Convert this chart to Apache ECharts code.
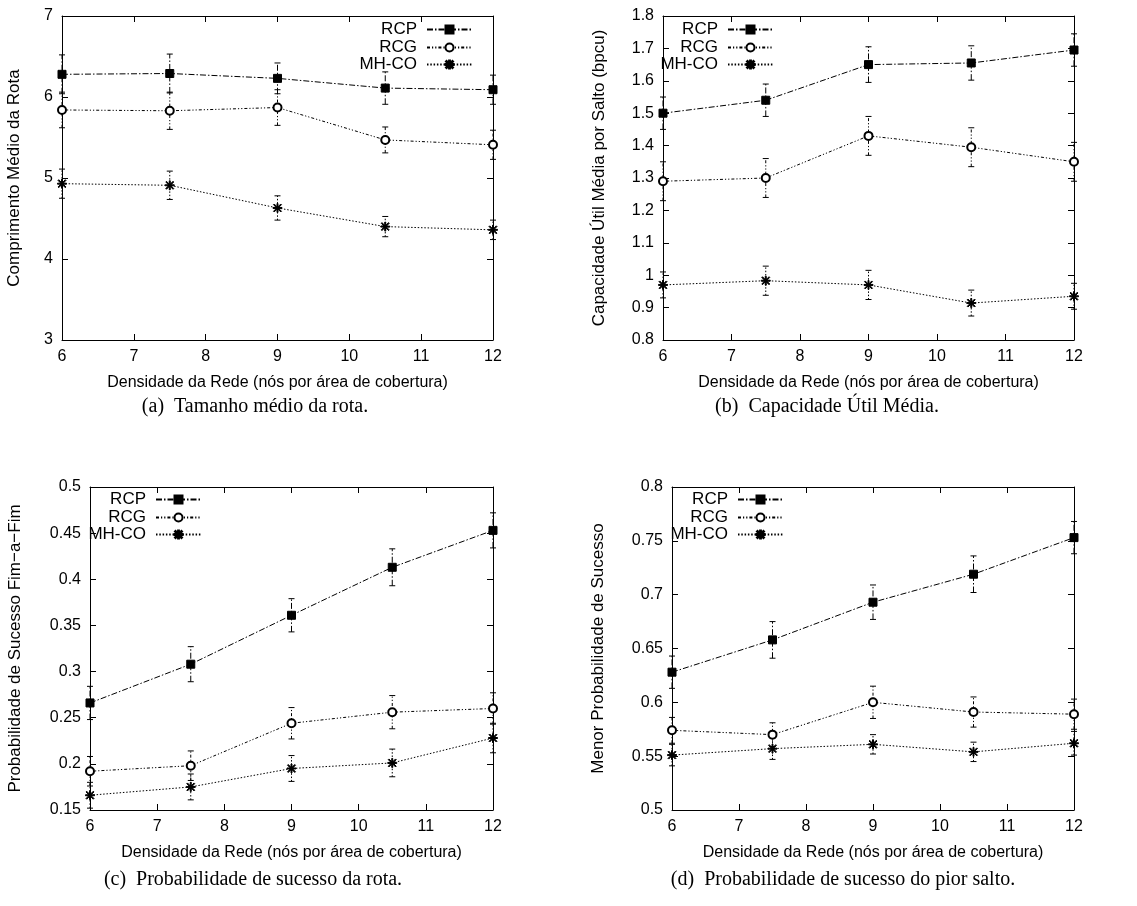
<!DOCTYPE html>
<html>
<head>
<meta charset="utf-8">
<script src="https://cdn.jsdelivr.net/npm/echarts@6/dist/echarts.min.js"></script>
<style>
html,body{margin:0;padding:0;background:#fff;}
#chart{width:1137px;height:906px;}
</style>
</head>
<body>
<div id="chart"></div>
<script>
// ---- data ----
const xDensity = [6, 7.5, 9, 10.5, 12];
const seriesNames = ['RCP', 'RCG', 'MH-CO'];
const xTicks = { min: 6, max: 12, interval: 1 };

// (a) Comprimento médio da rota
const rotaRCP = [6.28, 6.29, 6.23, 6.11, 6.09];
const rotaRCPErr = [0.24, 0.24, 0.19, 0.20, 0.18];
const rotaRCG = [5.84, 5.83, 5.87, 5.47, 5.41];
const rotaRCGErr = [0.22, 0.23, 0.22, 0.16, 0.18];
const rotaMH = [4.93, 4.91, 4.63, 4.40, 4.36];
const rotaMHErr = [0.18, 0.175, 0.15, 0.125, 0.12];

// (b) Capacidade útil média por salto
const capRCP = [1.50, 1.54, 1.65, 1.655, 1.695];
const capRCPErr = [0.05, 0.05, 0.055, 0.053, 0.05];
const capRCG = [1.29, 1.30, 1.43, 1.395, 1.35];
const capRCGErr = [0.06, 0.06, 0.06, 0.06, 0.06];
const capMH = [0.97, 0.983, 0.97, 0.914, 0.935];
const capMHErr = [0.04, 0.045, 0.045, 0.04, 0.04];

// (c) Probabilidade de sucesso fim-a-fim
const sucRCP = [0.266, 0.308, 0.361, 0.413, 0.453];
const sucRCPErr = [0.018, 0.019, 0.018, 0.020, 0.019];
const sucRCG = [0.192, 0.198, 0.244, 0.256, 0.260];
const sucRCGErr = [0.016, 0.016, 0.017, 0.018, 0.017];
const sucMH = [0.166, 0.175, 0.195, 0.201, 0.228];
const sucMHErr = [0.014, 0.014, 0.014, 0.015, 0.016];

// (d) Menor probabilidade de sucesso
const piorRCP = [0.628, 0.658, 0.693, 0.719, 0.753];
const piorRCPErr = [0.015, 0.017, 0.016, 0.017, 0.015];
const piorRCG = [0.574, 0.570, 0.600, 0.591, 0.589];
const piorRCGErr = [0.012, 0.011, 0.015, 0.014, 0.014];
const piorMH = [0.551, 0.557, 0.561, 0.554, 0.562];
const piorMHErr = [0.010, 0.010, 0.009, 0.009, 0.011];

const yRanges = [
  { min: 3, max: 7, interval: 1 },
  { min: 0.8, max: 1.8, interval: 0.1 },
  { min: 0.15, max: 0.5, interval: 0.05 },
  { min: 0.5, max: 0.8, interval: 0.05 }
];
const yNames = [
  'Comprimento Médio da Rota',
  'Capacidade Útil Média por Salto (bpcu)',
  'Probabilidade de Sucesso Fim−a−Fim',
  'Menor Probabilidade de Sucesso'
];
const xName = 'Densidade da Rede (nós por área de cobertura)';
const captions = [
  '(a)  Tamanho médio da rota.',
  '(b)  Capacidade Útil Média.',
  '(c)  Probabilidade de sucesso da rota.',
  '(d)  Probabilidade de sucesso do pior salto.'
];
const panelValues = [
  [[rotaRCP, rotaRCPErr], [rotaRCG, rotaRCGErr], [rotaMH, rotaMHErr]],
  [[capRCP, capRCPErr], [capRCG, capRCGErr], [capMH, capMHErr]],
  [[sucRCP, sucRCPErr], [sucRCG, sucRCGErr], [sucMH, sucMHErr]],
  [[piorRCP, piorRCPErr], [piorRCG, piorRCGErr], [piorMH, piorMHErr]]
];

// ---- layout / style ----
const W = 1137;
const layout = [
  { grid: { left: 62, top: 16, width: 431, height: 324 }, yGap: 39, legendIconRight: 473, legendRows: [30, 48, 65], caption: [255, 407] },
  { grid: { left: 663, top: 16, width: 411, height: 324 }, yGap: 55, legendIconRight: 774, legendRows: [30, 48, 65], caption: [827, 407] },
  { grid: { left: 90, top: 487, width: 403, height: 323 }, yGap: 66, legendIconRight: 202, legendRows: [500, 518, 535], caption: [253, 880] },
  { grid: { left: 672, top: 487, width: 402, height: 323 }, yGap: 65, legendIconRight: 784, legendRows: [500, 518, 535], caption: [843, 880] }
];
const FONT = 'Liberation Sans, Arial, sans-serif';
const asterisk = 'path://M-1.1,-10L1.1,-10L1.1,10L-1.1,10Z M-10,-1.1L10,-1.1L10,1.1L-10,1.1Z M-7.3,-8.85L8.85,7.3L7.3,8.85L-8.85,-7.3Z M7.3,-8.85L8.85,-7.3L-7.3,8.85L-8.85,7.3Z';
const styles = [
  { symbol: 'rect', size: 8, dash: [6, 2, 1.5, 2] },
  { symbol: 'emptyCircle', size: 8, dash: [3, 2, 1.2, 2, 1.2, 2] },
  { symbol: asterisk, size: 9, dash: [1.5, 1.8] }
];

const grids = [], xAxes = [], yAxes = [], series = [], legends = [], graphics = [];
const tickStyle = { inside: true, length: 6, lineStyle: { color: '#000', width: 1 } };
const lineAx = { show: true, onZero: false, lineStyle: { color: '#000', width: 1 } };

layout.forEach((L, g) => {
  grids.push(Object.assign({ show: false, containLabel: false }, L.grid));
  xAxes.push({
    type: 'value', gridIndex: g, position: 'bottom', min: xTicks.min, max: xTicks.max, interval: xTicks.interval,
    axisLine: lineAx, axisTick: tickStyle, splitLine: { show: false },
    axisLabel: { color: '#000', fontSize: 16, fontFamily: FONT, margin: 9 },
    name: xName, nameLocation: 'middle', nameGap: 35,
    nameTextStyle: { color: '#000', fontSize: 16, fontFamily: FONT }
  });
  xAxes.push({
    type: 'value', gridIndex: g, position: 'top', min: xTicks.min, max: xTicks.max, interval: xTicks.interval,
    axisLine: lineAx, axisTick: tickStyle, splitLine: { show: false }, axisLabel: { show: false }
  });
  const yr = yRanges[g];
  yAxes.push({
    type: 'value', gridIndex: g, position: 'left', min: yr.min, max: yr.max, interval: yr.interval,
    axisLine: lineAx, axisTick: tickStyle, splitLine: { show: false },
    axisLabel: { color: '#000', fontSize: 16, fontFamily: FONT, margin: 9 },
    name: yNames[g], nameLocation: 'middle', nameGap: L.yGap, nameRotate: 90,
    nameTextStyle: { color: '#000', fontSize: 17, fontFamily: FONT }
  });
  yAxes.push({
    type: 'value', gridIndex: g, position: 'right', min: yr.min, max: yr.max, interval: yr.interval,
    axisLine: lineAx, axisTick: tickStyle, splitLine: { show: false }, axisLabel: { show: false }
  });

  panelValues[g].forEach((pair, s) => {
    const vals = pair[0], errs = pair[1], st = styles[s];
    series.push({
      type: 'custom', name: 'err-' + seriesNames[s] + '-' + g,
      xAxisIndex: 2 * g, yAxisIndex: 2 * g, clip: false, silent: true, z: 2,
      data: xDensity.map((x, i) => [x, vals[i] - errs[i], vals[i] + errs[i]]),
      renderItem: (params, api) => {
        const lo = api.coord([api.value(0), api.value(1)]);
        const hi = api.coord([api.value(0), api.value(2)]);
        const ls = { stroke: '#000', lineWidth: 1, lineDash: st.dash };
        return {
          type: 'group', children: [
            { type: 'line', shape: { x1: lo[0], y1: lo[1], x2: hi[0], y2: hi[1] }, style: ls },
            { type: 'line', shape: { x1: lo[0] - 3, y1: lo[1], x2: lo[0] + 3, y2: lo[1] }, style: { stroke: '#000', lineWidth: 1 } },
            { type: 'line', shape: { x1: hi[0] - 3, y1: hi[1], x2: hi[0] + 3, y2: hi[1] }, style: { stroke: '#000', lineWidth: 1 } }
          ]
        };
      }
    });
    series.push({
      type: 'line', name: seriesNames[s], xAxisIndex: 2 * g, yAxisIndex: 2 * g, clip: false, z: 3,
      data: xDensity.map((x, i) => [x, vals[i]]),
      symbol: st.symbol, symbolSize: st.size, showAllSymbol: true,
      lineStyle: { color: '#000', width: 1, type: st.dash },
      itemStyle: { color: '#000', borderColor: '#000', borderWidth: 1 }
    });
    legends.push({
      data: [seriesNames[s]], orient: 'horizontal', align: 'right',
      right: W - L.legendIconRight, top: L.legendRows[s] - 9,
      padding: 0, itemWidth: 45, itemHeight: 10, selectedMode: false,
      textStyle: { color: '#000', fontSize: 17, fontFamily: FONT, padding: [0, 5, 0, 0] }
    });
  });

  graphics.push({
    type: 'text', x: L.caption[0], y: L.caption[1],
    style: { text: captions[g], textAlign: 'center', textVerticalAlign: 'middle', fill: '#000',
      font: '20px "Liberation Serif", "Times New Roman", serif' }
  });
});

const chart = echarts.init(document.getElementById('chart'), null, { renderer: 'canvas' });
chart.setOption({
  animation: false,
  backgroundColor: '#fff',
  grid: grids, xAxis: xAxes, yAxis: yAxes, series: series, legend: legends, graphic: graphics
});
</script>
</body>
</html>
